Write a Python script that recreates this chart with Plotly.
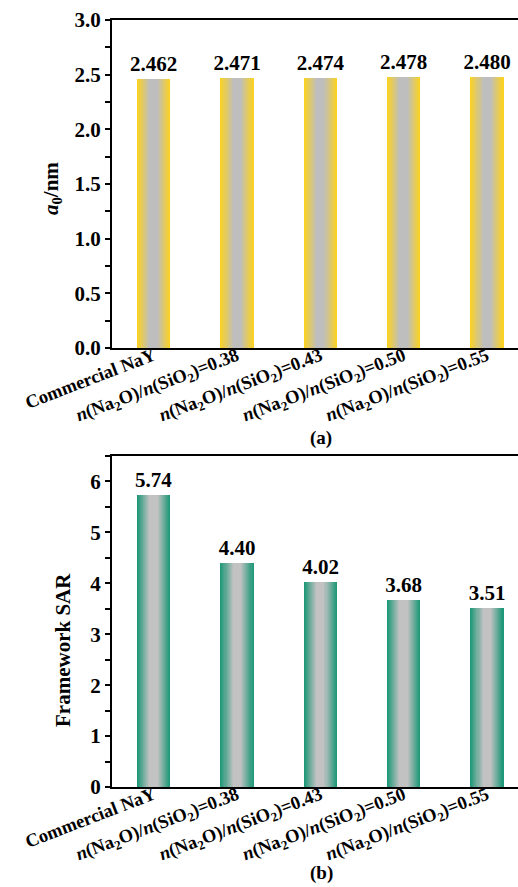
import plotly.graph_objects as go

# Sample labels (rich text with italic n and subscripts)
categories = [
    "Commercial NaY",
    "<i>n</i>(Na<sub>2</sub>O)/<i>n</i>(SiO<sub>2</sub>)=0.38",
    "<i>n</i>(Na<sub>2</sub>O)/<i>n</i>(SiO<sub>2</sub>)=0.43",
    "<i>n</i>(Na<sub>2</sub>O)/<i>n</i>(SiO<sub>2</sub>)=0.50",
    "<i>n</i>(Na<sub>2</sub>O)/<i>n</i>(SiO<sub>2</sub>)=0.55",
]
lattice_a0 = [2.462, 2.471, 2.474, 2.478, 2.480]
framework_sar = [5.74, 4.40, 4.02, 3.68, 3.51]

FONT = "Liberation Serif"
W, H = 518, 887
BAR_W = 0.40
LAYERS = 16


def mix(c1, c2, t):
    return "rgb(%d,%d,%d)" % tuple(round(a + (b - a) * t) for a, b in zip(c1, c2))


def gradient_bars(fig, values, edge, center, xa, ya, fmt):
    """Stack progressively narrower bars to fake a horizontal edge-to-centre gradient."""
    xs = list(range(len(values)))
    for k in range(LAYERS):
        frac = k / LAYERS
        width = BAR_W * (1 - frac)
        t = min(1.0, frac / 0.75)
        fig.add_trace(go.Bar(
            x=xs, y=values, width=width,
            marker=dict(color=mix(edge, center, t), line=dict(width=0)),
            xaxis=xa, yaxis=ya, showlegend=False, hoverinfo="skip",
            text=[fmt.format(v) for v in values] if k == 0 else None,
            textposition="outside" if k == 0 else "none",
            constraintext="none",
            textfont=dict(family=FONT, size=21, color="black", weight="bold"),
            cliponaxis=False,
        ))


fig = go.Figure()
gradient_bars(fig, lattice_a0, (250, 210, 35), (190, 190, 190), "x", "y", "{:.3f}")
gradient_bars(fig, framework_sar, (30, 152, 120), (194, 194, 194), "x2", "y2", "{:.2f}")

left = 112 / W
xrange = [-0.5, -0.5 + (W - 112) / 83.3]

line_style = dict(showline=True, linecolor="black", linewidth=2,
                  showgrid=False, zeroline=False, automargin=False)
xtickfont = dict(family=FONT, size=18.5, color="black", weight="bold")
ytickfont = dict(family=FONT, size=21, color="black", weight="bold")
ytick = dict(ticks="outside", ticklen=5, tickwidth=2, tickcolor="black")
xcommon = dict(range=xrange, domain=[left, 1], tickmode="array",
               tickvals=list(range(5)), ticktext=categories, tickangle=-21,
               ticks="", mirror=True, tickfont=xtickfont, ticklabelstandoff=-12,
               **line_style)

fig.update_layout(
    width=W, height=H,
    margin=dict(l=0, r=0, t=0, b=0),
    paper_bgcolor="white", plot_bgcolor="white",
    barmode="overlay", bargap=0,
    xaxis=dict(anchor="y", **xcommon),
    yaxis=dict(domain=[1 - 348 / H, 1 - 20 / H], range=[0, 3.0], anchor="x",
               tickmode="linear", tick0=0, dtick=0.5, tickformat=".1f",
               tickfont=ytickfont, minor=dict(dtick=0.25, **ytick), **ytick, **line_style),
    xaxis2=dict(anchor="y2", **xcommon),
    yaxis2=dict(domain=[1 - 787 / H, 1 - 456 / H], range=[0, 6.5], anchor="x2",
                tickmode="linear", tick0=0, dtick=1,
                tickfont=ytickfont, minor=dict(dtick=0.5, **ytick), **ytick, **line_style),
    font=dict(family=FONT, color="black"),
)

title_font = dict(family=FONT, size=21, color="black", weight="bold")
fig.add_annotation(x=52 / W, y=1 - 189 / H, xref="paper", yref="paper",
                   xanchor="center", yanchor="middle",
                   text="<i>a</i><sub>0</sub>/nm", textangle=-90,
                   showarrow=False, font=title_font)
fig.add_annotation(x=63 / W, y=1 - 650 / H, xref="paper", yref="paper",
                   xanchor="center", yanchor="middle",
                   text="Framework SAR", textangle=-90,
                   showarrow=False, font=title_font)
ann_font = dict(family=FONT, size=19, color="black", weight="bold")
fig.add_annotation(x=321 / W, y=1 - 438 / H, xref="paper", yref="paper",
                   xanchor="center", yanchor="middle",
                   text="(a)", showarrow=False, font=ann_font)
fig.add_annotation(x=321 / W, y=1 - 873 / H, xref="paper", yref="paper",
                   xanchor="center", yanchor="middle",
                   text="(b)", showarrow=False, font=ann_font)

fig.write_html("out.html")
